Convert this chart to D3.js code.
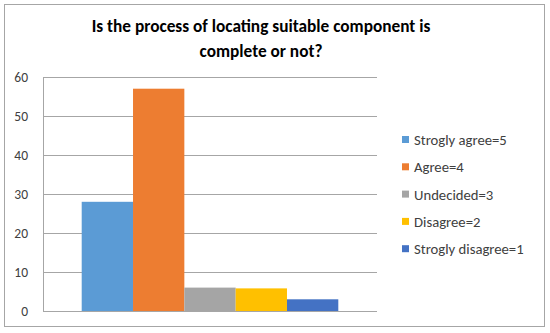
<!DOCTYPE html>
<html><head><meta charset="utf-8">
<script src="https://cdn.jsdelivr.net/npm/d3@7"></script>
<style>body{margin:0;background:#fff}svg{display:block}</style>
</head><body>
<script>
const seriesNames = ["Strogly agree=5","Agree=4","Undecided=3","Disagree=2","Strogly disagree=1"];
const values = [28, 57, 6, 5.8, 3];
const colors = ["#5B9BD5","#ED7D31","#A5A5A5","#FFC000","#4472C4"];
const yTicks = [0,10,20,30,40,50,60];
const titleLines = ["Is the process of locating suitable component is","complete or not?"];

(function(){
const W=550,H=333;
const svg=d3.select("body").append("svg").attr("width",W).attr("height",H);
svg.append("rect").attr("x",4.5).attr("y",4.5).attr("width",540).attr("height",322)
  .attr("fill","#fff").attr("stroke","#a6a6a6").attr("stroke-width",1);

const font="Calibri, Carlito, Lato, sans-serif";
svg.selectAll("text.title").data(titleLines).enter().append("text")
  .attr("x",261).attr("y",(d,i)=>32+i*25).attr("text-anchor","middle")
  .attr("font-family",font).attr("font-weight","bold").attr("font-size",17.3).attr("fill","#000")
  .text(d=>d);

const pL=43, pR=377, pT=77, pB=311;
const y=d3.scaleLinear().domain([0,60]).range([pB,pT]);
const x=d3.scaleBand().domain(seriesNames).range([pL+38.7,pR-38.7]).padding(0);

svg.append("g").selectAll("line").data(yTicks).enter().append("line")
  .attr("x1",pL).attr("x2",pR).attr("y1",d=>Math.round(y(d))+0.5).attr("y2",d=>Math.round(y(d))+0.5)
  .attr("stroke","#a6a6a6").attr("stroke-width",1);
svg.append("line").attr("x1",pL+0.5).attr("x2",pL+0.5).attr("y1",pT).attr("y2",pB+0.5)
  .attr("stroke","#a6a6a6");

const yAxis=svg.append("g").attr("transform",`translate(${pL},0)`)
  .call(d3.axisLeft(y).tickValues(yTicks).tickSize(0).tickPadding(15));
yAxis.select(".domain").remove();
yAxis.selectAll("text").attr("font-family",font).attr("font-size",13.5).attr("fill","#404040");

svg.append("g").selectAll("rect").data(values).enter().append("rect")
  .attr("x",(d,i)=>x(seriesNames[i])).attr("width",x.bandwidth())
  .attr("y",d=>y(d)).attr("height",d=>pB-y(d))
  .attr("fill",(d,i)=>colors[i]);

const lg=svg.append("g").selectAll("g").data(seriesNames).enter().append("g")
  .attr("transform",(d,i)=>`translate(402,${140+i*27.3})`);
lg.append("rect").attr("x",0).attr("y",-4).attr("width",7).attr("height",7).attr("fill",(d,i)=>colors[i]);
lg.append("text").attr("x",12).attr("y",5).attr("font-family",font).attr("font-size",14.7)
  .attr("fill","#404040").text(d=>d);
})();
</script>
</body></html>
